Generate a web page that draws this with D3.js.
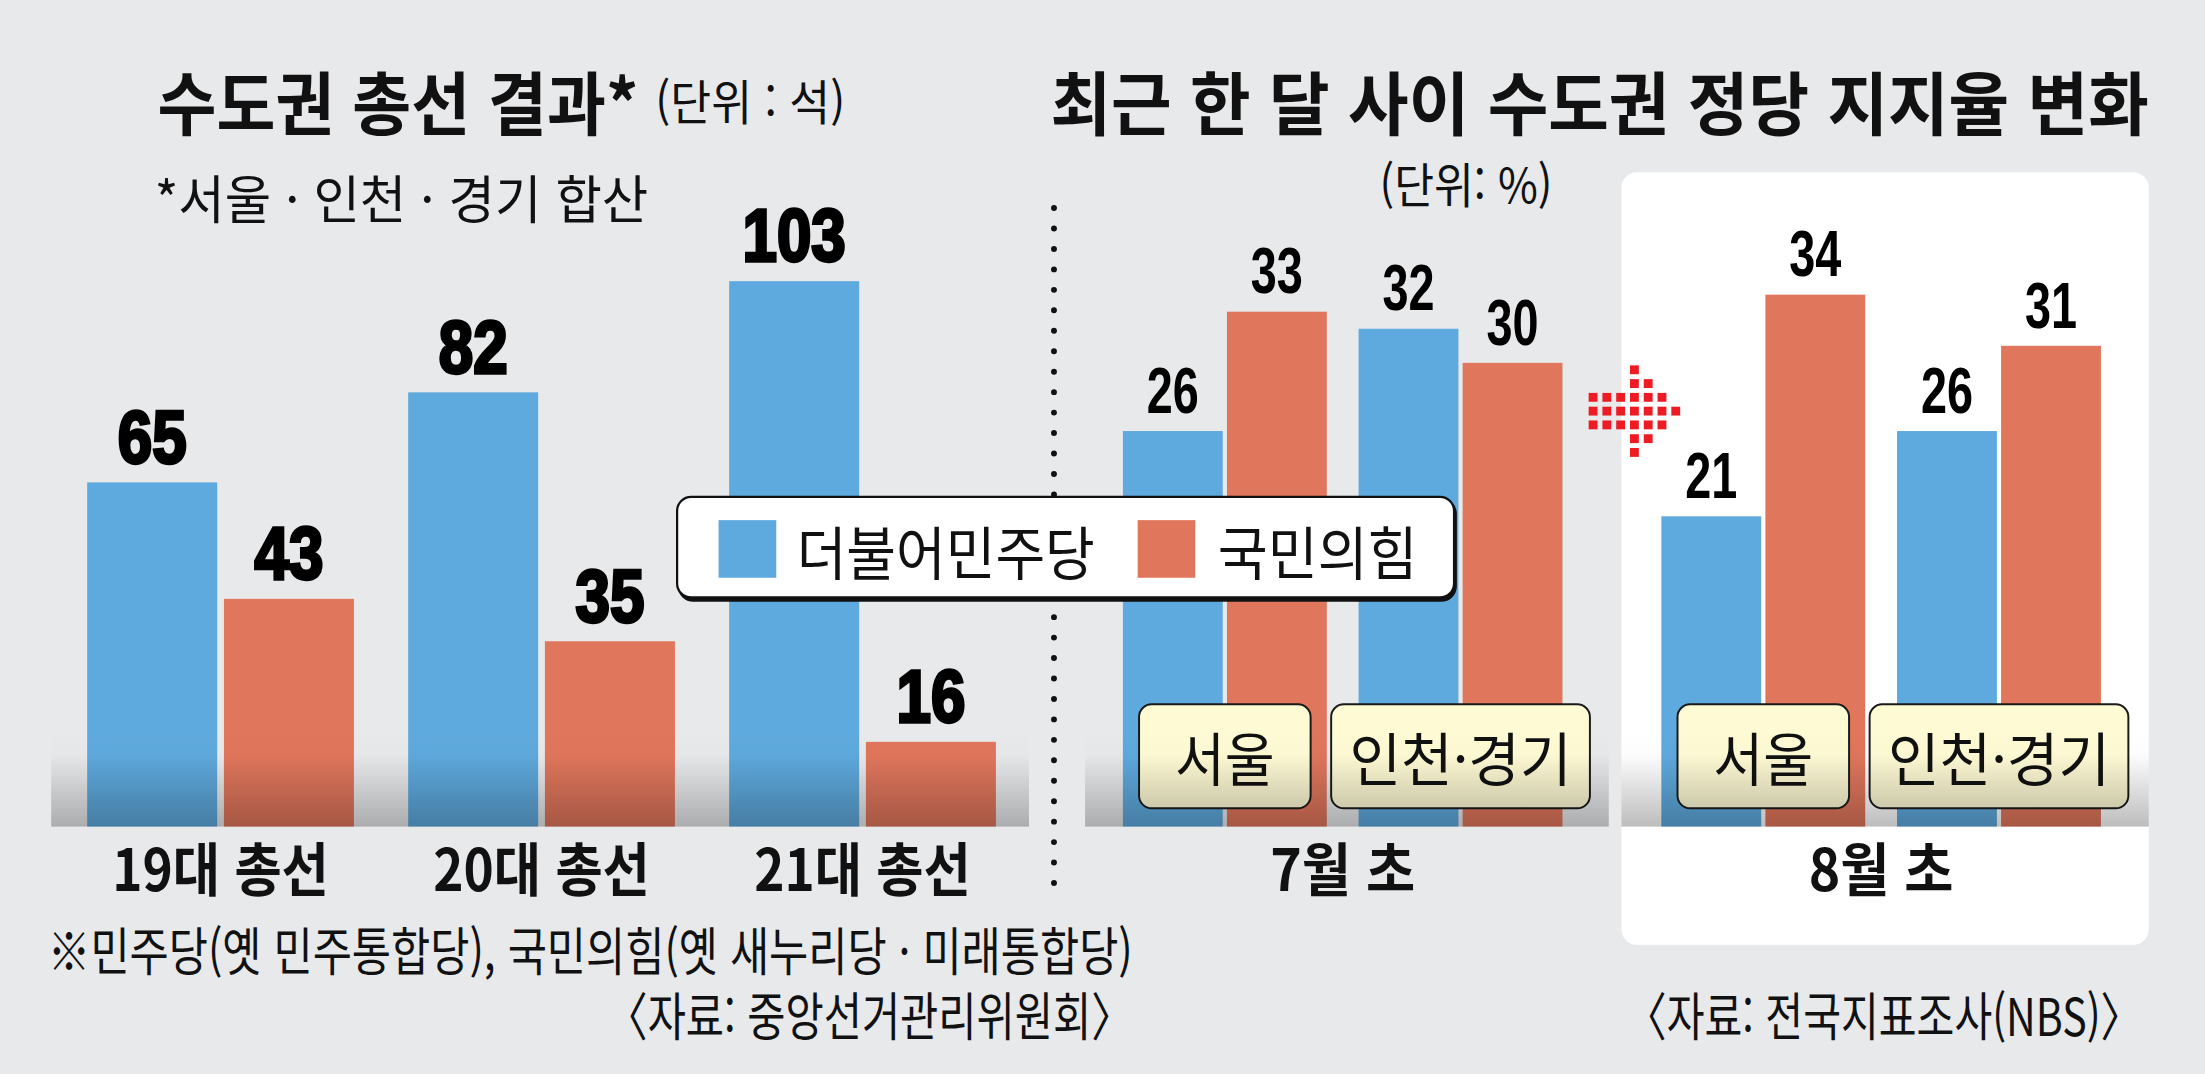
<!DOCTYPE html>
<html lang="ko">
<head>
<meta charset="utf-8">
<title>수도권 총선 결과 / 정당 지지율 변화</title>
<script src="https://cdn.jsdelivr.net/npm/d3@7"></script>
<style>
  html, body { margin: 0; padding: 0; background: #e8e9eb; }
  #chart { width: 2205px; height: 1074px; }
  svg { display: block; }
</style>
</head>
<body>
<div id="chart"></div>
<script>
// ---- data ----
const parties = ['더불어민주당', '국민의힘'];
const elections = ['19대 총선', '20대 총선', '21대 총선'];
const seatsDem = [65, 82, 103];
const seatsPpp = [43, 35, 16];

const months = ['7월 초', '8월 초'];
const regions = ['서울', '인천·경기'];
const pollDem = [[26, 32], [21, 26]];   // [month][region]
const pollPpp = [[33, 30], [34, 31]];

// red dotted arrow, one string per row
const arrowRows = ['...#...', '...##..', '######.', '#######', '######.', '...##..', '...#...'];

// ---- layout (drawn in a 1568x764 box, scaled to the window) ----
const W = 1568, H = 764;
const BASE = 588;
const KR = "'Noto Sans CJK KR', 'Noto Sans', sans-serif";
const NUM = "'Liberation Sans Narrow', 'Liberation Sans', Arial, sans-serif";
const color = d3.scaleOrdinal(parties, ['#5ea9dd', '#e0765c']);

const svg = d3.select('#chart').append('svg')
    .attr('width', 2205)
    .attr('height', 1074)
    .attr('viewBox', `0 0 ${W} ${H}`)
    .attr('preserveAspectRatio', 'none');

const defs = svg.append('defs');
const grad = defs.append('linearGradient')
    .attr('id', 'shade').attr('x1', 0).attr('y1', 0).attr('x2', 0).attr('y2', 1);
grad.append('stop').attr('offset', 0).attr('stop-color', '#000').attr('stop-opacity', 0);
grad.append('stop').attr('offset', 0.25).attr('stop-color', '#000').attr('stop-opacity', 0.01);
grad.append('stop').attr('offset', 1).attr('stop-color', '#000').attr('stop-opacity', 0.26);

svg.append('rect').attr('width', W).attr('height', H).attr('fill', '#e8e9eb');

function label(g, str, x, y, size, opts = {}) {
    const t = g.append('text')
        .attr('x', x).attr('y', y)
        .attr('font-family', opts.family || KR)
        .attr('font-size', size)
        .attr('font-weight', opts.weight || 'normal')
        .attr('fill', opts.fill || '#111')
        .attr('text-anchor', opts.anchor || 'start')
        .attr('dominant-baseline', opts.baseline || 'central')
        .text(str);
    if (opts.len) t.attr('textLength', opts.len).attr('lengthAdjust', 'spacingAndGlyphs');
    return t;
}

// ---- white panel for 8월 초 ----
svg.append('rect')
    .attr('x', 1153).attr('y', 122.5).attr('width', 375).attr('height', 549.5)
    .attr('rx', 11).attr('fill', '#ffffff');

// ---- left chart: seats ----
const x0L = d3.scaleBand().domain(elections).range([62, 708.2]).paddingInner(0.169).paddingOuter(0);
const x1L = d3.scaleBand().domain(parties).range([0, x0L.bandwidth()]).paddingInner(0.0493);
const yL = d3.scaleLinear().domain([0, 103]).range([BASE, 200]);

const seatRows = elections.flatMap((e, i) => [
    { group: e, party: parties[0], v: seatsDem[i] },
    { group: e, party: parties[1], v: seatsPpp[i] }
]);

const left = svg.append('g');
left.selectAll('rect.bar')
    .data(seatRows)
    .join('rect')
    .attr('class', 'bar')
    .attr('x', d => x0L(d.group) + x1L(d.party))
    .attr('y', d => yL(d.v))
    .attr('width', x1L.bandwidth())
    .attr('height', d => BASE - yL(d.v))
    .attr('fill', d => color(d.party));

// ---- right chart: poll ----
const xM = d3.scaleBand().domain(months).range([798.5, 1494]).paddingInner(0.1836).paddingOuter(0);
const xR = d3.scaleBand().domain(regions).range([0, xM.bandwidth()]).paddingInner(0.1349);
const xP = d3.scaleBand().domain(parties).range([0, xR.bandwidth()]).paddingInner(0.0405);
const yR = d3.scaleLinear().domain([0, 34]).range([622, 209.6]);

const pollRows = months.flatMap((m, i) => regions.flatMap((r, j) => [
    { month: m, region: r, party: parties[0], v: pollDem[i][j] },
    { month: m, region: r, party: parties[1], v: pollPpp[i][j] }
]));

const right = svg.append('g');
right.selectAll('rect.bar')
    .data(pollRows)
    .join('rect')
    .attr('class', 'bar')
    .attr('x', d => xM(d.month) + xR(d.region) + xP(d.party))
    .attr('y', d => yR(d.v))
    .attr('width', xP.bandwidth())
    .attr('height', d => BASE - yR(d.v))
    .attr('fill', d => color(d.party));

// bottom shading over the bars
const shadeTop = 520;
[[36.4, 731.7], [771.6, 1144], [1153, 1528]].forEach(([a, b]) => {
    svg.append('rect')
        .attr('x', a).attr('y', shadeTop).attr('width', b - a).attr('height', BASE - shadeTop)
        .attr('fill', 'url(#shade)');
});

// value labels
left.selectAll('text.val')
    .data(seatRows)
    .join('text')
    .attr('class', 'val')
    .attr('x', d => x0L(d.group) + x1L(d.party) + x1L.bandwidth() / 2)
    .attr('y', d => yL(d.v) - 14)
    .attr('text-anchor', 'middle')
    .attr('font-family', NUM)
    .attr('font-weight', 'bold')
    .attr('font-size', 53)
    .attr('fill', '#000')
    .attr('stroke', '#000')
    .attr('stroke-width', 2.4)
    .attr('textLength', d => String(d.v).length * 24.5)
    .attr('lengthAdjust', 'spacingAndGlyphs')
    .text(d => d.v);

right.selectAll('text.val')
    .data(pollRows)
    .join('text')
    .attr('class', 'val')
    .attr('x', d => xM(d.month) + xR(d.region) + xP(d.party) + xP.bandwidth() / 2)
    .attr('y', d => yR(d.v) - 13)
    .attr('text-anchor', 'middle')
    .attr('font-family', NUM)
    .attr('font-weight', 'bold')
    .attr('font-size', 46)
    .attr('fill', '#000')
    .attr('textLength', d => String(d.v).length * 18.5)
    .attr('lengthAdjust', 'spacingAndGlyphs')
    .text(d => d.v);

// category labels
elections.forEach(e => {
    label(left, e, x0L(e) + x0L.bandwidth() / 2, 616, 41, { weight: 'bold', anchor: 'middle', len: 154 });
});
months.forEach(m => {
    label(right, m, xM(m) + xM.bandwidth() / 2, 616, 41, { weight: 'bold', anchor: 'middle', len: 103 });
});

// region tags
const tagW = { '서울': 122, '인천·경기': 184 };
const tagLen = { '서울': 71, '인천·경기': 158 };
months.forEach(m => {
    regions.forEach(r => {
        const cx = xM(m) + xR(r) + xR.bandwidth() / 2;
        right.append('rect')
            .attr('x', cx - tagW[r] / 2).attr('y', 501)
            .attr('width', tagW[r]).attr('height', 74)
            .attr('rx', 9)
            .attr('fill', '#fefad4')
            .attr('stroke', '#1a1a1a')
            .attr('stroke-width', 1.4);
        label(right, r, cx, 538, 41, { anchor: 'middle', len: tagLen[r] });
    });
});

// dotted separator
svg.append('line')
    .attr('x1', 749.5).attr('x2', 749.5)
    .attr('y1', 148).attr('y2', 629)
    .attr('stroke', '#111')
    .attr('stroke-width', 4.2)
    .attr('stroke-linecap', 'round')
    .attr('stroke-dasharray', '0 14.55');

// legend
const lg = svg.append('g');
lg.append('rect')
    .attr('x', 482).attr('y', 354.5).attr('width', 554).attr('height', 73.5)
    .attr('rx', 11).attr('fill', '#111');
lg.append('rect')
    .attr('x', 481.5).attr('y', 353.5).attr('width', 552.5).attr('height', 71.5)
    .attr('rx', 10).attr('fill', '#fff')
    .attr('stroke', '#111').attr('stroke-width', 1.6);
const legendItems = [
    { party: parties[0], sq: 511, tx: 566.5, len: 212 },
    { party: parties[1], sq: 809, tx: 866, len: 142 }
];
legendItems.forEach(it => {
    lg.append('rect')
        .attr('x', it.sq).attr('y', 370).attr('width', 41).attr('height', 41)
        .attr('fill', color(it.party));
    label(lg, it.party, it.tx, 391, 41, { len: it.len });
});

// red dotted arrow
const arrow = svg.append('g').attr('transform', 'translate(1129.7,259.9)');
const cells = arrowRows.flatMap((row, r) => row.split('').map((c, k) => ({ r, k, on: c === '#' })))
    .filter(d => d.on);
arrow.selectAll('rect')
    .data(cells)
    .join('rect')
    .attr('x', d => d.k * 9.8)
    .attr('y', d => d.r * 9.8)
    .attr('width', 6.3)
    .attr('height', 6.3)
    .attr('fill', '#ed1c24');

// titles and notes
label(svg, '수도권 총선 결과*', 112, 71.5, 49, { weight: 'bold', len: 342 });
label(svg, '(단위 : 석)', 466, 71, 34, { len: 135 });
label(svg, '*서울 · 인천 · 경기 합산', 110, 139.5, 37, { len: 351 });
label(svg, '최근 한 달 사이 수도권 정당 지지율 변화', 747, 71.5, 49, { weight: 'bold', len: 781 });
label(svg, '(단위: %)', 981, 129.5, 34, { len: 123 });
label(svg, '※민주당(옛 민주통합당), 국민의힘(옛 새누리당 · 미래통합당)', 34, 675, 37, { len: 771.5 });
label(svg, '〈자료: 중앙선거관리위원회〉', 805.5, 721, 37, { anchor: 'end', len: 374.5 });
label(svg, '〈자료: 전국지표조사(NBS)〉', 1523, 721, 37, { anchor: 'end', len: 367 });
</script>
</body>
</html>
